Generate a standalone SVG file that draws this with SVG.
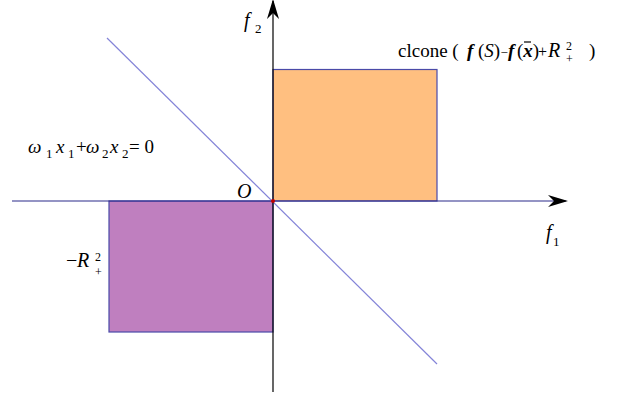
<svg xmlns="http://www.w3.org/2000/svg" width="618" height="399" viewBox="0 0 618 399" font-family="'Liberation Serif', 'DejaVu Serif', serif">
<style>
text{font-family:'Liberation Serif','DejaVu Serif',serif;fill:#000}
.i{font-style:italic}
.b{font-weight:bold;font-style:italic}
.rect{stroke:#4a4aa8;stroke-width:1.2}
</style>
<defs>
<marker id="ah" viewBox="0 0 20 12" refX="18" refY="6" markerWidth="20" markerHeight="12" markerUnits="userSpaceOnUse" orient="auto">
<path d="M0,0 L20,6 L0,12 L6,6 Z" fill="#000"/>
</marker>
</defs>
<g id="region-pos">
<rect class="rect" x="273" y="69.5" width="164" height="131.5" fill="#FFBF80"/>
</g>
<g id="region-neg">
<rect class="rect" x="109" y="201" width="164" height="131" fill="#BF7FBF"/>
</g>
<g id="connectors">
<line x1="107" y1="38" x2="437" y2="364" stroke="#8484d8" stroke-width="1.2"/>
<line x1="12" y1="201" x2="566" y2="201" stroke="#2a2a8a" stroke-width="1.2" marker-end="url(#ah)"/>
<line x1="273" y1="392" x2="273" y2="1" stroke="#000" stroke-width="1.2" marker-end="url(#ah)"/>
</g>
<g id="origin">
<circle cx="273" cy="201" r="2" fill="#c00000"/>
<text class="i" x="237" y="198" font-size="20">O</text>
</g>
<g id="label-f1">
<text x="546" y="239" font-size="20" class="i">f</text>
<text x="553" y="246" font-size="13">1</text>
</g>
<g id="label-f2">
<text x="244" y="27" font-size="20" class="i">f</text>
<text x="255" y="33" font-size="13">2</text>
</g>
<g id="label-line">
<text font-size="19"><tspan class="i" x="28" y="153">ω</tspan><tspan x="46" y="158" font-size="13">1</tspan><tspan class="i" x="56" y="153">x</tspan><tspan x="68" y="158" font-size="13">1</tspan><tspan x="76" y="153">+</tspan><tspan class="i" x="86" y="153">ω</tspan><tspan x="102" y="158" font-size="13">2</tspan><tspan class="i" x="110" y="153">x</tspan><tspan x="122" y="158" font-size="13">2</tspan><tspan x="129" y="153">= 0</tspan></text>
</g>
<g id="label-negR">
<text font-size="20"><tspan x="66" y="267">−</tspan><tspan class="i" x="77" y="267">R</tspan></text>
<text x="95" y="261" font-size="12">2</text>
<text x="95" y="276" font-size="12">+</text>
</g>
<g id="label-clcone">
<text font-size="19"><tspan x="398" y="57">clcone (</tspan><tspan class="b" x="467" y="57">f</tspan><tspan x="478" y="57">(</tspan><tspan class="i">S</tspan><tspan>)</tspan><tspan x="500.5" y="57" font-size="13">−</tspan><tspan class="b" x="508" y="57">f</tspan><tspan x="517" y="57">(</tspan><tspan class="b">x</tspan><tspan>)</tspan><tspan x="538" y="57" font-size="16">+</tspan><tspan class="i" x="548" y="57" font-size="20">R</tspan></text>
<line x1="524" y1="42" x2="531" y2="42" stroke="#000" stroke-width="1.2"/>
<text x="566" y="50" font-size="12">2</text>
<text x="566" y="63" font-size="12">+</text>
<text x="589" y="57" font-size="19">)</text>
</g>
</svg>
